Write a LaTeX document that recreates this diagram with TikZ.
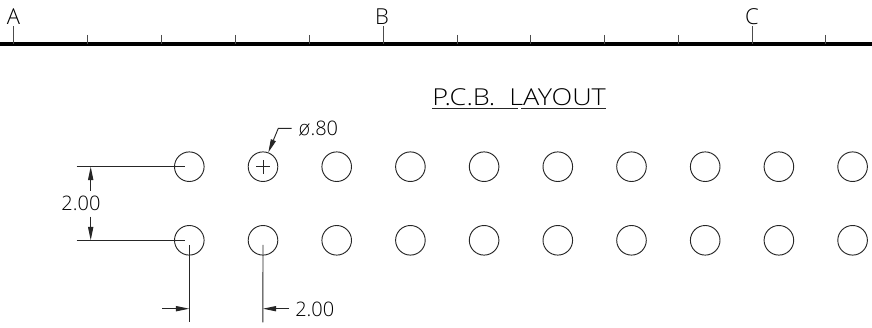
\documentclass[tikz,border=0pt]{standalone}
\usepackage{fontspec}
\setmainfont{Open Sans Light}
\usetikzlibrary{arrows.meta}
\tikzset{
  px/.style={x=0.75pt,y=-0.75pt},
  cadline/.style={line width=0.7pt,draw=black!85},
  hole/.style={circle,draw=black!85,line width=0.7pt,minimum size=22.2pt,inner sep=0pt},
  axisline/.style={line width=3.6pt,draw=black},
  tickline/.style={line width=0.7pt,draw=black!70},
  dimarrow/.style={cadline,-{Triangle[length=10pt,width=3.9pt]}},
  letterlabel/.style={inner sep=0pt,font=\fontsize{16.5}{16.5}\selectfont,text=black},
  dimlabel/.style={inner sep=0pt,font=\fontsize{15}{15}\selectfont,text=black},
  titlelabel/.style={inner sep=0pt,font=\fontsize{17.5}{17.5}\selectfont,text=black},
}
\begin{document}
\begin{tikzpicture}[px]
\useasboundingbox (0,0) rectangle (872,328);
% axis
\coordinate (axL) at (0,44);
\coordinate (axR) at (872,44);
\draw[axisline] (axL) -- (axR);
\foreach \i/\tx in {1/87.7,2/161.7,3/235.3,4/309,5/457,6/530.7,7/604.3,8/678.3,9/825.7}{
  \coordinate (tb\i) at (\tx,44);
  \coordinate (tt\i) at (\tx,35);
  \draw[tickline] (tt\i) -- (tb\i);
}
\node[letterlabel] (la) at (13.5,17) {A};
\node[letterlabel] (lb) at (382,17) {B};
\node[letterlabel] (lc) at (752,17) {C};
\coordinate (ta) at (13.7,44);
\coordinate (tb) at (383,44);
\coordinate (tc) at (752,44);
\draw[tickline] (ta) -- (13.7,26);
\draw[tickline] (tb) -- (383,26);
\draw[tickline] (tc) -- (752,26);
% title
\node[titlelabel,anchor=base west] (title) at (432,106) {\scalebox{1.16}[1]{P.C.B.\ \ LAYOUT}};
\coordinate (ua) at (432,108.7);
\coordinate (ub) at (518,108.7);
\coordinate (uc) at (521,108.7);
\coordinate (ud) at (606,108.7);
\draw[cadline] (ua) -- (ub);
\draw[cadline] (uc) -- (ud);
% holes
\foreach \n in {0,...,9}{
  \node[hole] (t\n) at ({189.3+73.7*\n},166.7) {};
  \node[hole] (b\n) at ({189.3+73.7*\n},240.3) {};
}
% centre cross
\draw[cadline] ([xshift=-5.25pt]t1.center) -- ([xshift=5.25pt]t1.center);
\draw[cadline] ([yshift=-5.25pt]t1.center) -- ([yshift=5.25pt]t1.center);
% leader
\node[dimlabel,anchor=west] (dia) at (298,129) {\fontspec{DejaVu Sans ExtraLight}ø\fontspec{Open Sans Light}.80};
\coordinate (ld1) at (291.7,128.3);
\coordinate (ld2) at (278.3,128.3);
\coordinate (ld3) at (268.3,152.5);
\draw[dimarrow] (ld1) -- (ld2) -- (ld3);
% vertical dimension
\coordinate (e1) at (76.7,166.7);
\coordinate (e2) at (76.7,240.3);
\draw[cadline] (e1) -- ([xshift=-3.4pt]t0.center);
\draw[cadline] (e2) -- ([xshift=-3.4pt]b0.center);
\coordinate (d1) at (90.7,166.7);
\coordinate (d1s) at (90.7,190.5);
\coordinate (d2) at (90.7,240.3);
\coordinate (d2s) at (90.7,216.7);
\draw[dimarrow] (d1s) -- (d1);
\draw[dimarrow] (d2s) -- (d2);
\node[dimlabel] (vlab) at (81,203.5) {2.00};
% horizontal dimension
\coordinate (v1) at (189.3,322.3);
\coordinate (v2) at (262.9,322.3);
\draw[cadline] ([yshift=-3.4pt]b0.center) -- (v1);
\draw[cadline] ([yshift=-3.4pt]b1.center) -- (v2);
\coordinate (h1) at (162.3,308.7);
\coordinate (h1t) at (189.3,308.7);
\coordinate (h2) at (289.3,308.7);
\coordinate (h2t) at (262.9,308.7);
\draw[dimarrow] (h1) -- (h1t);
\draw[dimarrow] (h2) -- (h2t);
\node[dimlabel,anchor=west] (hlab) at (295,309) {2.00};
\end{tikzpicture}
\end{document}
